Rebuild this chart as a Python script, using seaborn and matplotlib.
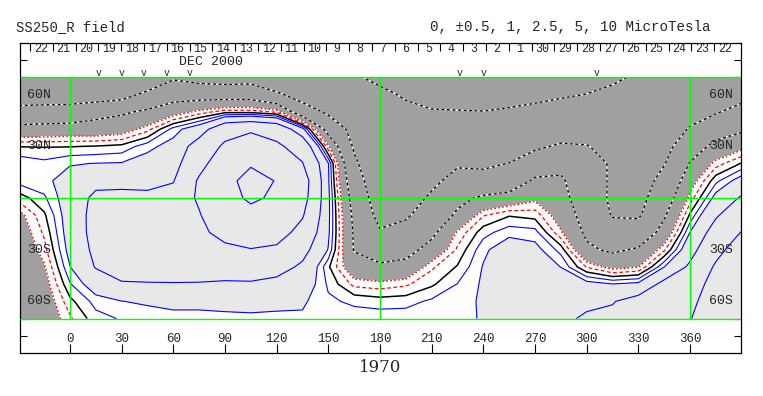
import numpy as np
import matplotlib
matplotlib.use("Agg")
import matplotlib.pyplot as plt
import seaborn as sns

# ---------------- data ----------------
lons = [-30, -15, 0, 15, 30, 45, 60, 75, 90, 105, 120, 135, 150, 165, 180,
        195, 210, 225, 240, 255, 270, 285, 300, 315, 330, 345, 360, 375, 390]
lats = [70, 60, 50, 40, 30, 20, 10, 0, -10, -20, -30, -40, -50, -60, -70]

# field values (MicroTesla) per longitude column, north -> south
field_by_lon = [
    [-7.0, -6.2, -4.3, -1.9, -0.02, 0.9, 0.7, -0.3, -1.3, -1.6, -1.8, -1.9, -2.0, -2.0, -2.0],
    [-7.5, -6.3, -4.1, -1.8, -0.04, 0.65, 0.85, 0.4, -0.1, -0.4, -0.7, -1.1, -1.4, -1.6, -1.7],
    [-7.5, -6.15, -4.1, -1.67, -0.03, 0.95, 1.3, 1.5, 1.5, 1.45, 1.3, 0.98, 0.45, -0.15, -0.6],
    [-7.5, -6.4, -3.15, -1.7, 0.03, 1.02, 2.0, 2.9, 3.1, 3.1, 2.9, 2.6, 1.5, 0.7, 0.3],
    [-7.0, -5.96, -2.75, -1.5, 0.15, 1.05, 2.1, 2.9, 3.2, 3.3, 3.2, 3.0, 2.4, 0.98, 0.55],
    [-7.5, -4.3, -2.2, -0.7, 0.8, 1.35, 2.0, 2.9, 3.4, 3.6, 3.5, 3.3, 2.4, 1.15, 0.55],
    [-5.3, -3.3, -1.5, 0.7, 1.3, 1.8, 2.4, 3.2, 3.8, 4.0, 3.9, 3.5, 2.4, 1.2, 0.8],
    [-5.9, -3.3, -0.8, 1.6, 3.4, 4.2, 5.3, 5.4, 4.8, 4.4, 4.0, 3.3, 2.4, 1.2, 0.8],
    [-6.1, -3.4, -0.2, 4.0, 5.4, 6.6, 7.8, 8.2, 7.4, 5.9, 4.4, 3.3, 2.3, 1.3, 0.8],
    [-6.0, -3.4, -0.2, 4.6, 6.5, 9.3, 12.5, 10.8, 8.5, 6.5, 4.9, 3.5, 2.3, 1.3, 0.85],
    [-7.0, -4.6, -0.6, 4.0, 5.4, 7.5, 9.7, 9.2, 7.8, 6.0, 4.6, 3.2, 2.0, 1.2, 0.85],
    [-8.5, -6.0, -3.8, 1.3, 4.0, 5.1, 6.3, 6.0, 5.2, 4.2, 3.1, 2.2, 1.6, 1.1, 0.9],
    [-8.5, -7.0, -5.4, -3.3, -0.9, 1.05, 1.1, 1.2, 1.2, 1.15, 0.95, 0.1, 0.4, 0.6, 0.7],
    [-9.5, -8.0, -6.8, -5.8, -5.3, -4.6, -3.9, -3.3, -2.9, -2.7, -2.6, -1.8, -0.66, 0.39, 0.76],
    [-11.0, -9.0, -8.0, -7.5, -7.2, -7.0, -6.7, -6.3, -5.7, -4.8, -3.5, -2.2, -0.8, 0.25, 0.8],
    [-11.5, -10.5, -9.0, -8.0, -7.5, -7.2, -6.8, -6.2, -5.3, -4.2, -3.1, -2.0, -0.6, 0.3, 0.8],
    [-12.5, -11.5, -9.7, -8.3, -7.4, -6.5, -5.6, -4.6, -3.8, -2.9, -1.9, -0.6, -0.1, 0.6, 0.8],
    [-13.0, -11.8, -9.8, -7.8, -6.2, -5.3, -4.1, -3.0, -2.2, -0.9, -0.4, 0.05, 0.52, 0.75, 0.85],
    [-13.0, -12.0, -9.9, -7.8, -6.4, -5.4, -4.2, -2.2, -0.55, 0.3, 0.85, 1.05, 1.1, 1.1, 1.05],
    [-12.5, -11.5, -9.5, -7.5, -6.0, -4.95, -3.8, -1.8, -0.05, 0.8, 1.5, 1.8, 1.9, 1.9, 1.85],
    [-12.5, -11.0, -9.0, -7.2, -5.4, -3.7, -2.2, -1.2, -0.2, 0.7, 1.25, 1.7, 1.9, 2.0, 2.0],
    [-12.5, -10.5, -8.2, -6.3, -4.7, -3.1, -2.2, -1.9, -1.5, -0.9, 0.3, 0.98, 1.8, 2.1, 2.2],
    [-12.0, -9.9, -7.8, -6.1, -4.9, -4.3, -3.9, -3.6, -3.2, -2.8, -2.2, -0.55, 1.3, 2.2, 2.7],
    [-10.6, -9.2, -7.6, -6.3, -5.7, -5.2, -5.3, -5.4, -5.15, -4.0, -2.8, -1.3, 1.02, 2.4, 2.9],
    [-9.5, -8.8, -8.0, -7.3, -6.8, -6.4, -6.1, -5.8, -5.3, -3.8, -2.3, -1.05, 1.2, 3.2, 4.0],
    [-9.0, -8.3, -7.5, -6.6, -5.8, -5.1, -4.3, -3.5, -2.7, -1.9, -0.6, 0.98, 3.0, 4.2, 4.7],
    [-8.2, -7.3, -6.0, -4.8, -3.5, -2.4, -1.5, -0.8, 0.1, 1.02, 1.8, 2.8, 3.7, 4.4, 4.9],
    [-7.5, -6.5, -5.2, -3.4, -2.0, -0.75, 0.35, 1.3, 2.3, 3.3, 4.3, 5.3, 6.0, 6.4, 6.6],
    [-7.0, -5.8, -4.2, -2.8, -1.3, 0.05, 1.4, 2.7, 3.8, 5.1, 6.2, 7.0, 7.5, 7.8, 8.0],
]

fill_levels = [-100, -1, 1, 100]
neg_dotted_levels = [-10, -5, -2.5]
red_dotted_levels = [-1]
red_dashed_levels = [-0.5]
zero_levels = [0]
pos_levels = [0.5, 1, 2.5, 5, 10]

lon_ticks = [0, 30, 60, 90, 120, 150, 180, 210, 240, 270, 300, 330, 360]
lat_ticks = [-80, -70, -60, -50, -40, -30, -20, -10, 0, 10, 20, 30, 40, 50, 60, 70, 80]
lat_label_vals = [60, 30, -30, -60]
lat_label_txt = ["60N", "30N", "30S", "60S"]
ref_lons = [0, 180, 360]
ref_lats = [-70, 0, 70]

day_labels = [22, 21, 20, 19, 18, 17, 16, 15, 14, 13, 12, 11, 10, 9, 8, 7, 6, 5, 4,
              3, 2, 1, 30, 29, 28, 27, 26, 25, 24, 23, 22]
first_day_lon = -23.2
deg_per_day = 13.24
marker_lons = [16.4, 30, 42.6, 56.1, 69.7, 226.5, 240, 305.8]

title_left = "SS250_R field"
title_right = "0, \u00b10.5, 1, 2.5, 5, 10 MicroTesla"
month_label = "DEC 2000"
year_label = "1970"

# ---------------- drawing ----------------
sns.set_style("white")
plt.rcParams["font.family"] = ["Liberation Mono", "DejaVu Sans Mono"]

W, H = 763, 396
fig = plt.figure(figsize=(W / 100, H / 100), dpi=100)
ax = fig.add_axes([20 / W, 1 - 353 / H, 721 / W, 310 / H])

Z = np.array(field_by_lon).T[::-1]
Y = np.array(lats)[::-1]
X = np.array(lons)

ax.contourf(X, Y, Z, levels=fill_levels, colors=["#a0a0a0", "#ffffff", "#e8e8e8"])

ax.contour(X, Y, Z, levels=neg_dotted_levels, colors="white", linewidths=0.9)
cs = ax.contour(X, Y, Z, levels=neg_dotted_levels, colors="black", linewidths=0.9)
cs.set_linestyle((0, (2.2, 2.2)))

cs = ax.contour(X, Y, Z, levels=red_dotted_levels, colors="#ff0000", linewidths=1.0)
cs.set_linestyle((0, (1.2, 1.6)))
cs = ax.contour(X, Y, Z, levels=red_dashed_levels, colors="#ff0000", linewidths=0.9)
cs.set_linestyle((0, (3.0, 2.0)))
ax.contour(X, Y, Z, levels=zero_levels, colors="black", linewidths=1.1)
ax.contour(X, Y, Z, levels=pos_levels, colors="#0000ff", linewidths=0.8)

# green reference lines
ax.hlines(ref_lats, -29.0, 389.6, colors="#00ff00", linewidth=1.0, zorder=5)
ax.vlines(ref_lons, -70, 70, colors="#00ff00", linewidth=1.0, zorder=5)

ax.set_xlim(-29.0, 389.6)
ax.set_ylim(-90, 90)
ax.set_xticks(lon_ticks)
ax.set_yticks(lat_ticks)
ax.tick_params(axis="x", direction="in", length=6.5, width=0.8, color="black",
               bottom=True, top=False, labelbottom=False)
ax.tick_params(axis="y", direction="in", length=5, width=0.8, color="black",
               left=True, right=True, labelleft=False, labelright=False)
for s in ax.spines.values():
    s.set_color("black")
    s.set_linewidth(0.9)
ax.grid(False)

# top day ticks
axt = ax.twiny()
axt.set_xlim(ax.get_xlim())
day_tick_lons = [first_day_lon + deg_per_day * k for k in range(len(day_labels))]
axt.set_xticks(day_tick_lons)
axt.tick_params(axis="x", direction="in", length=5.5, width=0.8, color="black",
                top=True, bottom=False, labeltop=False, labelbottom=False)
for s in axt.spines.values():
    s.set_visible(False)
axt.grid(False)

for lon, d in zip(day_tick_lons, day_labels):
    ax.text(lon + 0.47 * deg_per_day, 86.8, str(d), ha="center", va="center",
            fontsize=8.4, zorder=6)

for lon in lon_ticks:
    ax.text(lon, -81.6, str(lon), ha="center", va="center", fontsize=9, zorder=6)

for v, t in zip(lat_label_vals, lat_label_txt):
    ax.text(-24.8, v, t, ha="left", va="center", fontsize=9.5, zorder=6)
    ax.text(385.0, v, t, ha="right", va="center", fontsize=9.5, zorder=6)

ax.text(81.9, 78.8, month_label, ha="center", va="center", fontsize=9.5, zorder=6)
for lon in marker_lons:
    ax.text(lon, 72.8, "v", ha="center", va="center", fontsize=7, zorder=6)

fig.text(16 / W, 1 - 27 / H, title_left, ha="left", va="center", fontsize=10)
fig.text(710 / W, 1 - 27 / H, title_right, ha="right", va="center", fontsize=10.3)
fig.text(380 / W, 1 - 367 / H, year_label, ha="center", va="center", fontsize=12,
         family="DejaVu Serif")

fig.savefig("out.png", dpi=100)
